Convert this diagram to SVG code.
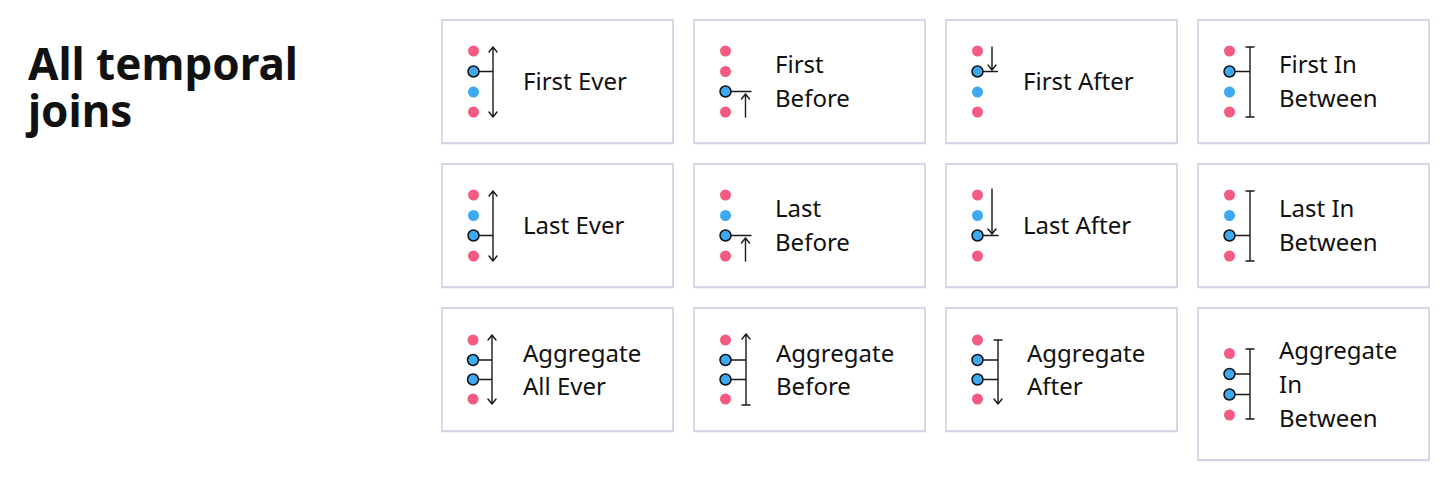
<svg xmlns="http://www.w3.org/2000/svg" width="1456" height="481" viewBox="0 0 1456 481">
<style>
.card{fill:#ffffff;stroke:#c3c4de;stroke-width:1.3}
.shadow{fill:#ececf2}
.pk{fill:#f35b82}
.bl{fill:#3ca9f2}
.bs{fill:#3ca9f2;stroke:#111111;stroke-width:1.5}
.ln{fill:none;stroke:#1a1a1a;stroke-width:1.4;stroke-linecap:round;stroke-linejoin:round}
.lbl{font-family:"Noto Sans","Open Sans","Liberation Sans",sans-serif;font-size:24px;fill:#111111}
.title{font-family:"Noto Sans","Open Sans","Liberation Sans",sans-serif;font-size:44px;font-weight:700;fill:#111111}
</style>
<rect width="1456" height="481" fill="#ffffff"/>
<g id="title">
<text class="title" x="28" y="80">All temporal</text>
<text class="title" x="28" y="127">joins</text>
</g>

<g id="first-ever" transform="translate(442,20)">
<rect class="shadow" x="0.5" y="1.5" width="231" height="123"/>
<rect class="card" x="0" y="0" width="231" height="123"/>
<circle class="pk" cx="31.5" cy="31" r="5.5"/>
<circle class="bl" cx="31.5" cy="72" r="5.5"/>
<circle class="pk" cx="31.5" cy="92" r="5.5"/>
<path class="ln" d="M37,51.5 H51 M51,27 V97 M47,32 L51,27 L55,32 M47,92 L51,97 L55,92"/>
<circle class="bs" cx="31.5" cy="51.5" r="5.5"/>
<text class="lbl" x="81" y="70">First Ever</text>
</g>

<g id="first-before" transform="translate(694,20)">
<rect class="shadow" x="0.5" y="1.5" width="231" height="123"/>
<rect class="card" x="0" y="0" width="231" height="123"/>
<circle class="pk" cx="31.5" cy="31" r="5.5"/>
<circle class="pk" cx="31.5" cy="51.5" r="5.5"/>
<circle class="pk" cx="31.5" cy="92" r="5.5"/>
<path class="ln" d="M37,71.5 H57 M51.5,97 V74 M47.5,79 L51.5,74 L55.5,79"/>
<circle class="bs" cx="31.5" cy="71.5" r="5.5"/>
<text class="lbl" x="81" y="53">First</text>
<text class="lbl" x="81" y="87">Before</text>
</g>

<g id="first-after" transform="translate(946,20)">
<rect class="shadow" x="0.5" y="1.5" width="231" height="123"/>
<rect class="card" x="0" y="0" width="231" height="123"/>
<circle class="pk" cx="31.5" cy="31" r="5.5"/>
<circle class="bl" cx="31.5" cy="72" r="5.5"/>
<circle class="pk" cx="31.5" cy="92" r="5.5"/>
<path class="ln" d="M37,51.5 H51.5 M46,27 V50 M42,45 L46,50 L50,45"/>
<circle class="bs" cx="31.5" cy="51.5" r="5.5"/>
<text class="lbl" x="77" y="70">First After</text>
</g>

<g id="first-in-between" transform="translate(1198,20)">
<rect class="shadow" x="0.5" y="1.5" width="231" height="123"/>
<rect class="card" x="0" y="0" width="231" height="123"/>
<circle class="pk" cx="31.5" cy="31" r="5.5"/>
<circle class="bl" cx="31.5" cy="72" r="5.5"/>
<circle class="pk" cx="31.5" cy="92" r="5.5"/>
<path class="ln" d="M37,51.5 H52 M52,27 V97 M48,27 H56 M48,97 H56"/>
<circle class="bs" cx="31.5" cy="51.5" r="5.5"/>
<text class="lbl" x="81" y="53">First In</text>
<text class="lbl" x="81" y="87">Between</text>
</g>

<g id="last-ever" transform="translate(442,164)">
<rect class="shadow" x="0.5" y="1.5" width="231" height="123"/>
<rect class="card" x="0" y="0" width="231" height="123"/>
<circle class="pk" cx="31.5" cy="31" r="5.5"/>
<circle class="bl" cx="31.5" cy="51.5" r="5.5"/>
<circle class="pk" cx="31.5" cy="92" r="5.5"/>
<path class="ln" d="M37,71.5 H51 M51,27 V97 M47,32 L51,27 L55,32 M47,92 L51,97 L55,92"/>
<circle class="bs" cx="31.5" cy="71.5" r="5.5"/>
<text class="lbl" x="81" y="70">Last Ever</text>
</g>

<g id="last-before" transform="translate(694,164)">
<rect class="shadow" x="0.5" y="1.5" width="231" height="123"/>
<rect class="card" x="0" y="0" width="231" height="123"/>
<circle class="pk" cx="31.5" cy="31" r="5.5"/>
<circle class="bl" cx="31.5" cy="51.5" r="5.5"/>
<circle class="pk" cx="31.5" cy="92" r="5.5"/>
<path class="ln" d="M37,71.5 H57 M51.5,97 V74 M47.5,79 L51.5,74 L55.5,79"/>
<circle class="bs" cx="31.5" cy="71.5" r="5.5"/>
<text class="lbl" x="81" y="53">Last</text>
<text class="lbl" x="81" y="87">Before</text>
</g>

<g id="last-after" transform="translate(946,164)">
<rect class="shadow" x="0.5" y="1.5" width="231" height="123"/>
<rect class="card" x="0" y="0" width="231" height="123"/>
<circle class="pk" cx="31.5" cy="31" r="5.5"/>
<circle class="bl" cx="31.5" cy="51.5" r="5.5"/>
<circle class="pk" cx="31.5" cy="92" r="5.5"/>
<path class="ln" d="M37,71.5 H52 M46,25 V70 M42,65 L46,70 L50,65"/>
<circle class="bs" cx="31.5" cy="71.5" r="5.5"/>
<text class="lbl" x="77" y="70">Last After</text>
</g>

<g id="last-in-between" transform="translate(1198,164)">
<rect class="shadow" x="0.5" y="1.5" width="231" height="123"/>
<rect class="card" x="0" y="0" width="231" height="123"/>
<circle class="pk" cx="31.5" cy="31" r="5.5"/>
<circle class="bl" cx="31.5" cy="51.5" r="5.5"/>
<circle class="pk" cx="31.5" cy="92" r="5.5"/>
<path class="ln" d="M37,71.5 H52 M52,27 V97 M48,27 H56 M48,97 H56"/>
<circle class="bs" cx="31.5" cy="71.5" r="5.5"/>
<text class="lbl" x="81" y="53">Last In</text>
<text class="lbl" x="81" y="87">Between</text>
</g>

<g id="aggregate-all-ever" transform="translate(442,308)">
<rect class="shadow" x="0.5" y="1.5" width="231" height="123"/>
<rect class="card" x="0" y="0" width="231" height="123"/>
<circle class="pk" cx="31" cy="32" r="5.5"/>
<circle class="pk" cx="31" cy="91" r="5.5"/>
<path class="ln" d="M37,52 H50 M37,71.5 H50 M50,27 V96 M46,32 L50,27 L54,32 M46,91 L50,96 L54,91"/>
<circle class="bs" cx="31" cy="52" r="5.5"/>
<circle class="bs" cx="31" cy="71.5" r="5.5"/>
<text class="lbl" x="81" y="54">Aggregate</text>
<text class="lbl" x="81" y="87">All Ever</text>
</g>

<g id="aggregate-before" transform="translate(694,308)">
<rect class="shadow" x="0.5" y="1.5" width="231" height="123"/>
<rect class="card" x="0" y="0" width="231" height="123"/>
<circle class="pk" cx="31.5" cy="32" r="5.5"/>
<circle class="pk" cx="31.5" cy="91" r="5.5"/>
<path class="ln" d="M37,52 H52 M37,71.5 H52 M52,26 V97 M48,31 L52,26 L56,31 M48,97 H56"/>
<circle class="bs" cx="31.5" cy="52" r="5.5"/>
<circle class="bs" cx="31.5" cy="71.5" r="5.5"/>
<text class="lbl" x="82" y="54">Aggregate</text>
<text class="lbl" x="82" y="87">Before</text>
</g>

<g id="aggregate-after" transform="translate(946,308)">
<rect class="shadow" x="0.5" y="1.5" width="231" height="123"/>
<rect class="card" x="0" y="0" width="231" height="123"/>
<circle class="pk" cx="31.5" cy="32" r="5.5"/>
<circle class="pk" cx="31.5" cy="91" r="5.5"/>
<path class="ln" d="M37,52 H52 M37,71.5 H52 M52,32 V96 M48,32 H56 M48,91 L52,96 L56,91"/>
<circle class="bs" cx="31.5" cy="52" r="5.5"/>
<circle class="bs" cx="31.5" cy="71.5" r="5.5"/>
<text class="lbl" x="81" y="54">Aggregate</text>
<text class="lbl" x="81" y="87">After</text>
</g>

<g id="aggregate-in-between" transform="translate(1198,308)">
<rect class="shadow" x="0.5" y="1.5" width="231" height="152"/>
<rect class="card" x="0" y="0" width="231" height="152"/>
<circle class="pk" cx="31.5" cy="45.5" r="5.5"/>
<circle class="pk" cx="31.5" cy="107" r="5.5"/>
<path class="ln" d="M37,66 H52 M37,86.5 H52 M52,41 V111 M48,41 H56 M48,111 H56"/>
<circle class="bs" cx="31.5" cy="66" r="5.5"/>
<circle class="bs" cx="31.5" cy="86.5" r="5.5"/>
<text class="lbl" x="81" y="51">Aggregate</text>
<text class="lbl" x="81" y="85">In</text>
<text class="lbl" x="81" y="119">Between</text>
</g>
</svg>
